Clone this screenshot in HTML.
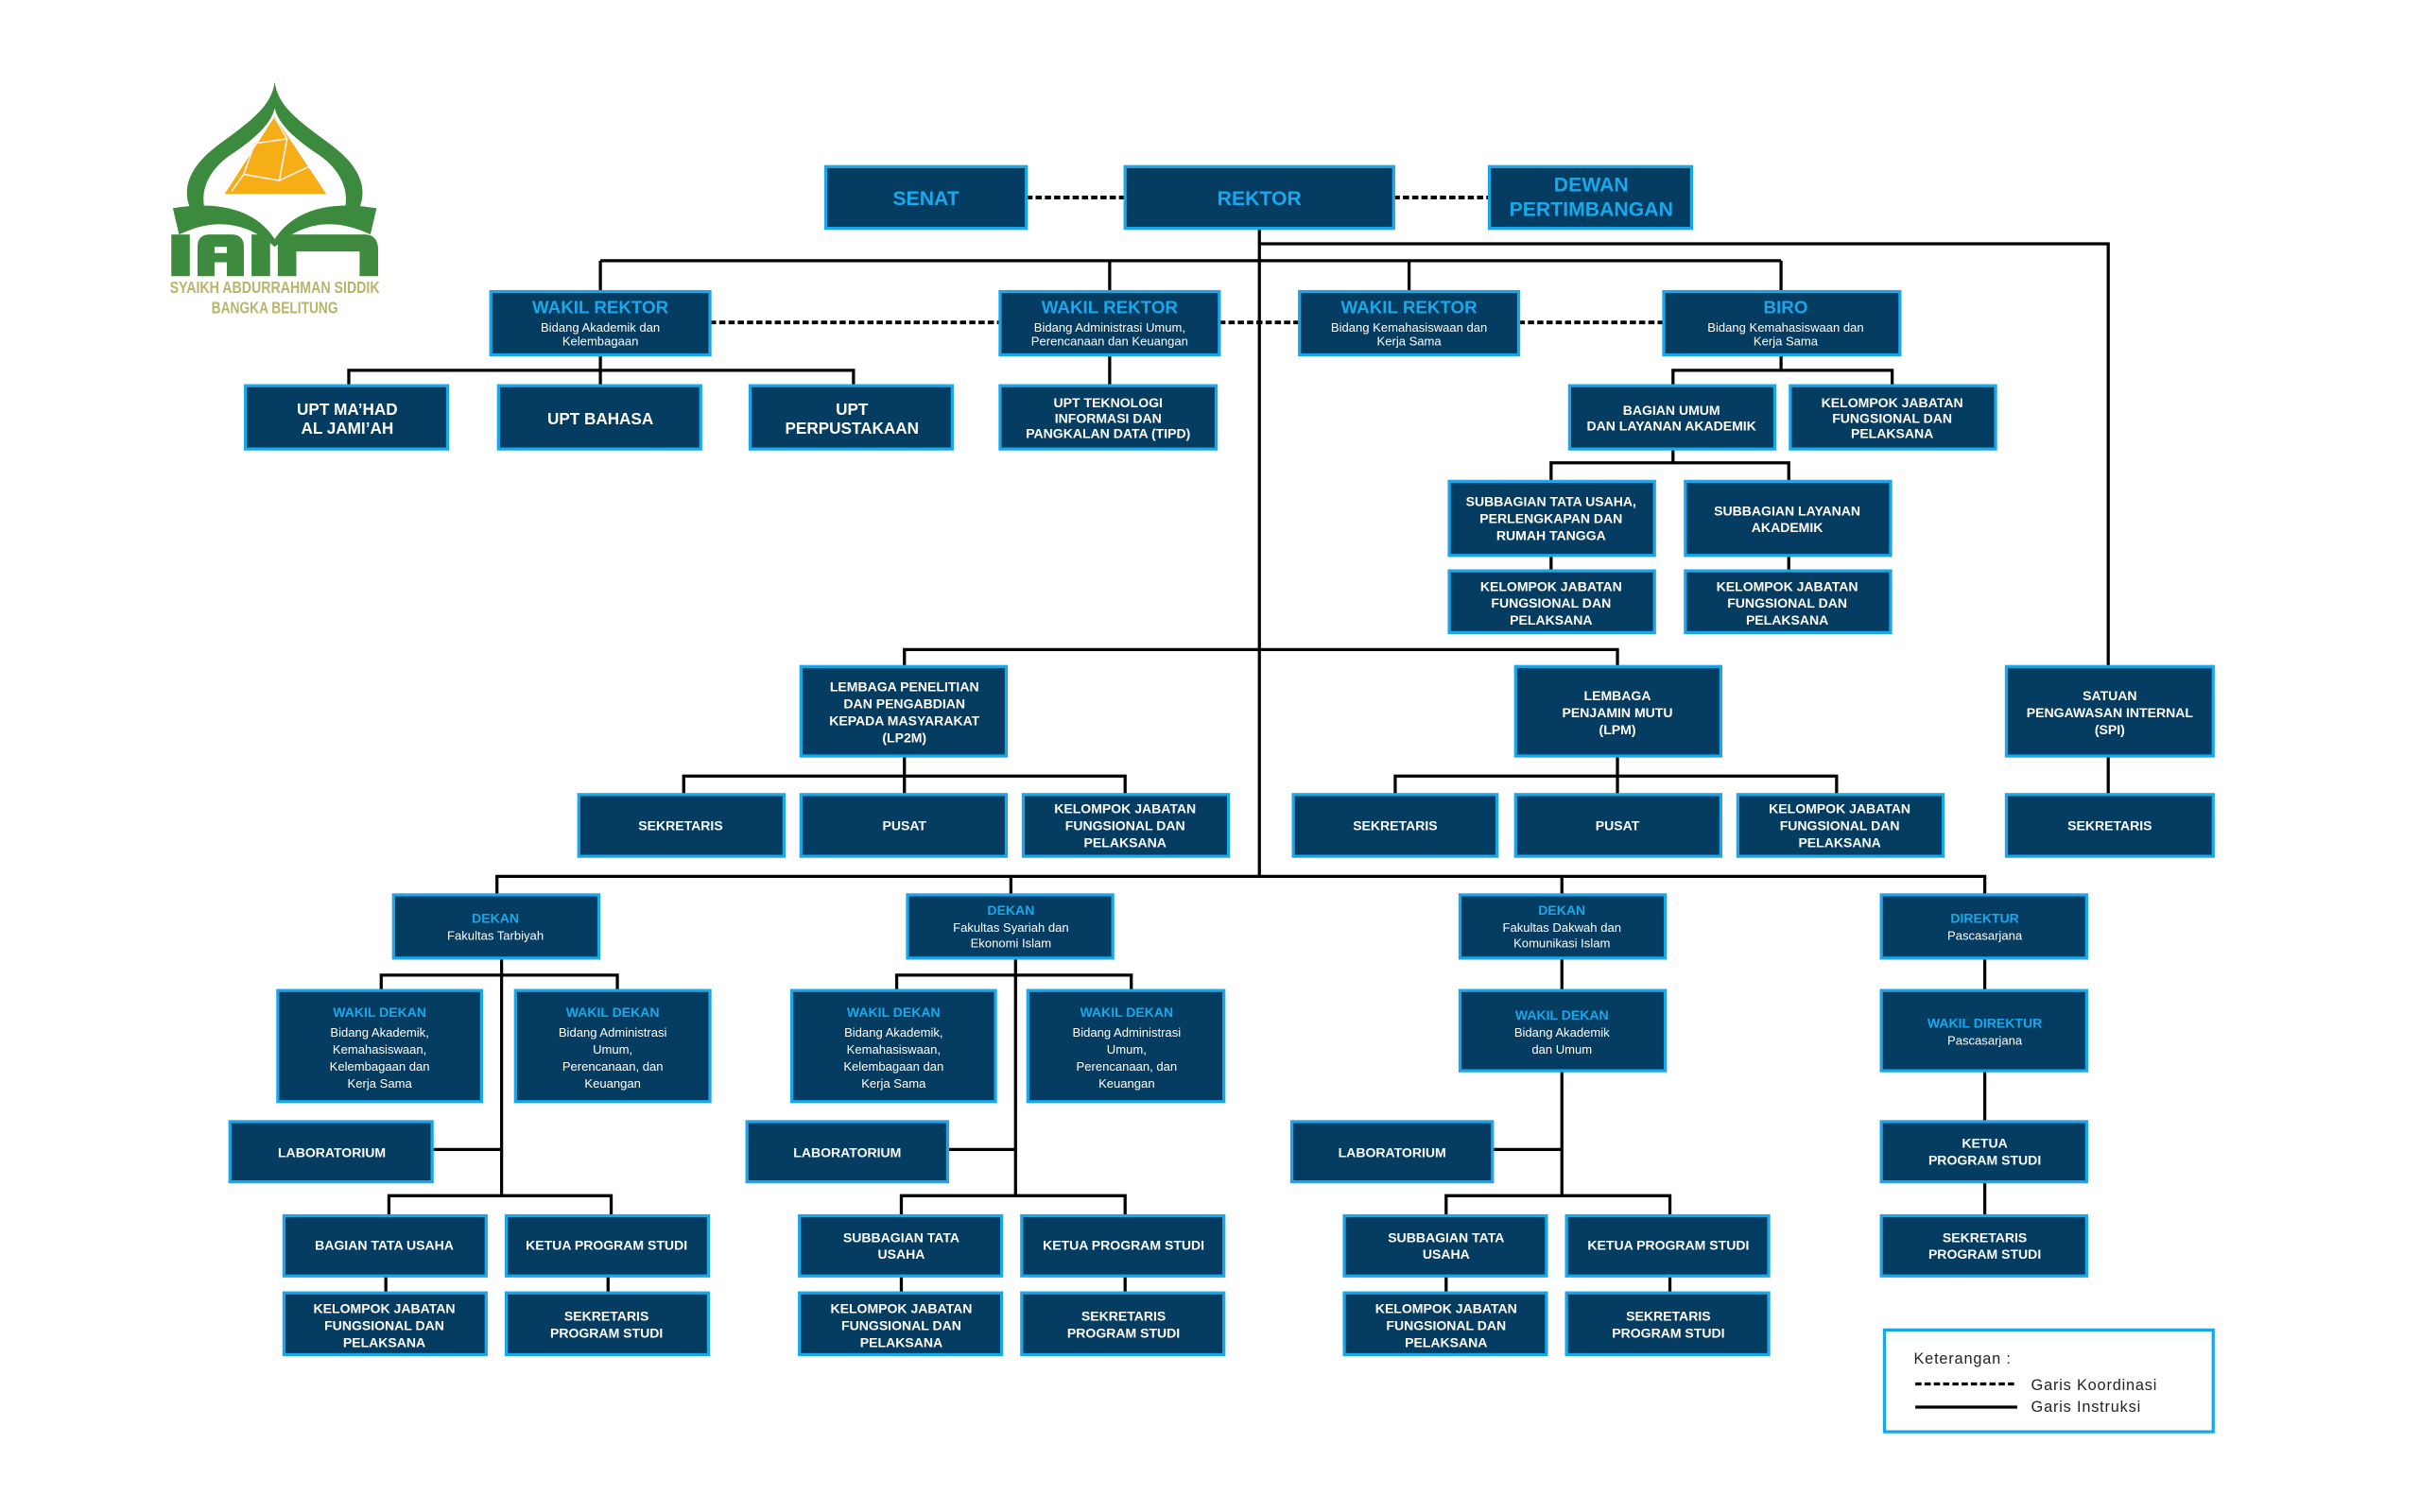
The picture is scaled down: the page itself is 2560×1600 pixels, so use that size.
<!DOCTYPE html>
<html><head><meta charset="utf-8"><style>
html,body{margin:0;padding:0;background:#fff;}
svg{display:block}
.bx{fill:#053c61;stroke:#1aa6e8;stroke-width:2}
text{font-family:"Liberation Sans Narrow","Liberation Sans",sans-serif;text-anchor:middle}
.T{fill:#1aa8ea;font-weight:bold}
.W{fill:#fff;font-weight:bold;font-size:8.6px}
.S{fill:#fff;font-size:8px}
.L{stroke:#000;stroke-width:2;fill:none}
.D{stroke:#000;stroke-width:2.4;fill:none;stroke-dasharray:4 2}
</style></head><body>
<svg width="2560" height="1600" viewBox="0 0 1568 980" preserveAspectRatio="none" xmlns="http://www.w3.org/2000/svg">
<!-- Logo -->
<g>
<path d="M178,53 C176,70 160,80 140,95 C118,112 118,128 126,140 L134,140 C128,125 135,110 150,100 C165,90 176,80 178,70 C180,80 191,90 206,100 C221,110 228,125 222,140 L230,140 C238,128 238,112 216,95 C196,80 180,70 178,53Z" fill="#3b8a3e"/>
<polygon points="178,75 145,126 212,126" fill="#f5ae16" stroke="#fff" stroke-width="0.6"/>
<path d="M165,93 L186,90 L181,117 L158,113 Z M181,117 L200,108 M158,113 L150,124 M186,90 L178,76" stroke="#eee" stroke-width="1" fill="none"/>
<path d="M112,135 C140,130 165,135 178,155 C191,135 216,130 244,135 L240,152 C215,140 195,145 178,160 C161,145 141,140 116,152 Z" fill="#3b8a3e"/>
<g fill="#3e8a3f">
<rect x="111" y="152" width="12" height="27"/>
<path d="M128,179 L128,160 Q128,152 136,152 L150,152 Q158,152 158,160 L158,179 L147,179 L147,170 L139,170 L139,179Z M139,160 L147,160 L147,164 L139,164Z" fill-rule="evenodd"/>
<rect x="163" y="152" width="12" height="27"/>
<path d="M180,179 L180,152 L236,152 Q245,152 245,162 L245,179 L233,179 L233,163 L192,163 L192,179Z"/>
</g>
<text x="178" y="190" style="font-size:11px;font-weight:bold;fill:#b8b56a" textLength="136" lengthAdjust="spacingAndGlyphs">SYAIKH ABDURRAHMAN SIDDIK</text>
<text x="178" y="203" style="font-size:11px;font-weight:bold;fill:#b8b56a" textLength="82" lengthAdjust="spacingAndGlyphs">BANGKA BELITUNG</text>
</g>

<!-- Lines -->
<path class="D" d="M665,128 H729 M903,128 H965 M460,209 H648 M790,209 H842 M984,209 H1078"/>
<path class="L" d="M816,148 V568 M816,158 H1366 V432 M389,169 H1154 M389,169 V189 M719,169 V189 M913,169 V189 M1154,169 V189
M389,230 V250 M226,250 V240 H553 V250 M719,230 V250
M1154,230 V240 M1084,250 V240 H1226 V250 M1084,291 V300 M1005,312 V300 H1159 V312 M1005,360 V370 M1159,360 V370
M586,432 V421 H1048 V432 M586,490 V515 M443,515 V503 H729 V515 M1048,490 V515 M904,515 V503 H1190 V515 M1366,490 V515
M322,580 V568 H1286 V580 M655,568 V580 M1012,568 V580
M325,621 V775 M247,642 V632 H400 V642 M280,745 H325 M252,788 V775 H396 V788 M250,827 V838 M394,827 V838
M658,621 V775 M581,642 V632 H733 V642 M614,745 H658 M584,788 V775 H729 V788 M584,827 V838 M729,827 V838
M1012,621 V642 M1012,694 V775 M967,745 H1012 M937,788 V775 H1082 V788 M937,827 V838 M1082,827 V838
M1286,621 V642 M1286,694 V727 M1286,766 V788"/>

<!-- Top -->
<rect class="bx" x="535" y="108" width="130" height="40"/><text class="T" x="600" y="133" style="font-size:13px">SENAT</text>
<rect class="bx" x="729" y="108" width="174" height="40"/><text class="T" x="816" y="133" style="font-size:13px">REKTOR</text>
<rect class="bx" x="965" y="108" width="131" height="40"/><text class="T" x="1031" y="124" style="font-size:13px">DEWAN</text><text class="T" x="1031" y="140" style="font-size:13px">PERTIMBANGAN</text>

<rect class="bx" x="318" y="189" width="142" height="41"/><text class="T" x="389" y="203" style="font-size:11.5px">WAKIL REKTOR</text><text class="S" x="389" y="215">Bidang Akademik dan</text><text class="S" x="389" y="224">Kelembagaan</text>
<rect class="bx" x="648" y="189" width="142" height="41"/><text class="T" x="719" y="203" style="font-size:11.5px">WAKIL REKTOR</text><text class="S" x="719" y="215">Bidang Administrasi Umum,</text><text class="S" x="719" y="224">Perencanaan dan Keuangan</text>
<rect class="bx" x="842" y="189" width="142" height="41"/><text class="T" x="913" y="203" style="font-size:11.5px">WAKIL REKTOR</text><text class="S" x="913" y="215">Bidang Kemahasiswaan dan</text><text class="S" x="913" y="224">Kerja Sama</text>
<rect class="bx" x="1078" y="189" width="153" height="41"/><text class="T" x="1157" y="203" style="font-size:11.5px">BIRO</text><text class="S" x="1157" y="215">Bidang Kemahasiswaan dan</text><text class="S" x="1157" y="224">Kerja Sama</text>

<rect class="bx" x="159" y="250" width="131" height="41"/><text class="W" x="225" y="269" style="font-size:10.5px">UPT MA’HAD</text><text class="W" x="225" y="281" style="font-size:10.5px">AL JAMI’AH</text>
<rect class="bx" x="323" y="250" width="131" height="41"/><text class="W" x="389" y="275" style="font-size:10.5px">UPT BAHASA</text>
<rect class="bx" x="486" y="250" width="131" height="41"/><text class="W" x="552" y="269" style="font-size:10.5px">UPT</text><text class="W" x="552" y="281" style="font-size:10.5px">PERPUSTAKAAN</text>
<rect class="bx" x="648" y="250" width="140" height="41"/><text class="W" x="718" y="264">UPT TEKNOLOGI</text><text class="W" x="718" y="274">INFORMASI DAN</text><text class="W" x="718" y="284">PANGKALAN DATA (TIPD)</text>

<rect class="bx" x="1017" y="250" width="133" height="41"/><text class="W" x="1083" y="269">BAGIAN UMUM</text><text class="W" x="1083" y="279">DAN LAYANAN AKADEMIK</text>
<rect class="bx" x="1160" y="250" width="133" height="41"/><text class="W" x="1226" y="264">KELOMPOK JABATAN</text><text class="W" x="1226" y="274">FUNGSIONAL DAN</text><text class="W" x="1226" y="284">PELAKSANA</text>
<rect class="bx" x="939" y="312" width="133" height="48"/><text class="W" x="1005" y="328">SUBBAGIAN TATA USAHA,</text><text class="W" x="1005" y="339">PERLENGKAPAN DAN</text><text class="W" x="1005" y="350">RUMAH TANGGA</text>
<rect class="bx" x="1092" y="312" width="133" height="48"/><text class="W" x="1158" y="334">SUBBAGIAN LAYANAN</text><text class="W" x="1158" y="345">AKADEMIK</text>
<rect class="bx" x="939" y="370" width="133" height="40"/><text class="W" x="1005" y="383">KELOMPOK JABATAN</text><text class="W" x="1005" y="394">FUNGSIONAL DAN</text><text class="W" x="1005" y="405">PELAKSANA</text>
<rect class="bx" x="1092" y="370" width="133" height="40"/><text class="W" x="1158" y="383">KELOMPOK JABATAN</text><text class="W" x="1158" y="394">FUNGSIONAL DAN</text><text class="W" x="1158" y="405">PELAKSANA</text>

<!-- Lembaga -->
<rect class="bx" x="519" y="432" width="133" height="58"/><text class="W" x="586" y="448">LEMBAGA PENELITIAN</text><text class="W" x="586" y="459">DAN PENGABDIAN</text><text class="W" x="586" y="470">KEPADA MASYARAKAT</text><text class="W" x="586" y="481">(LP2M)</text>
<rect class="bx" x="982" y="432" width="133" height="58"/><text class="W" x="1048" y="454">LEMBAGA</text><text class="W" x="1048" y="465">PENJAMIN MUTU</text><text class="W" x="1048" y="476">(LPM)</text>
<rect class="bx" x="1300" y="432" width="134" height="58"/><text class="W" x="1367" y="454">SATUAN</text><text class="W" x="1367" y="465">PENGAWASAN INTERNAL</text><text class="W" x="1367" y="476">(SPI)</text>

<rect class="bx" x="375" y="515" width="133" height="40"/><text class="W" x="441" y="538">SEKRETARIS</text>
<rect class="bx" x="519" y="515" width="133" height="40"/><text class="W" x="586" y="538">PUSAT</text>
<rect class="bx" x="663" y="515" width="133" height="40"/><text class="W" x="729" y="527">KELOMPOK JABATAN</text><text class="W" x="729" y="538">FUNGSIONAL DAN</text><text class="W" x="729" y="549">PELAKSANA</text>
<rect class="bx" x="838" y="515" width="132" height="40"/><text class="W" x="904" y="538">SEKRETARIS</text>
<rect class="bx" x="982" y="515" width="133" height="40"/><text class="W" x="1048" y="538">PUSAT</text>
<rect class="bx" x="1126" y="515" width="133" height="40"/><text class="W" x="1192" y="527">KELOMPOK JABATAN</text><text class="W" x="1192" y="538">FUNGSIONAL DAN</text><text class="W" x="1192" y="549">PELAKSANA</text>
<rect class="bx" x="1300" y="515" width="134" height="40"/><text class="W" x="1367" y="538">SEKRETARIS</text>

<!-- Faculties -->
<rect class="bx" x="255" y="580" width="133" height="41"/><text class="T" x="321" y="598" style="font-size:8.6px">DEKAN</text><text class="S" x="321" y="609">Fakultas Tarbiyah</text>
<rect class="bx" x="588" y="580" width="133" height="41"/><text class="T" x="655" y="593" style="font-size:8.6px">DEKAN</text><text class="S" x="655" y="604">Fakultas Syariah dan</text><text class="S" x="655" y="614">Ekonomi Islam</text>
<rect class="bx" x="946" y="580" width="133" height="41"/><text class="T" x="1012" y="593" style="font-size:8.6px">DEKAN</text><text class="S" x="1012" y="604">Fakultas Dakwah dan</text><text class="S" x="1012" y="614">Komunikasi Islam</text>
<rect class="bx" x="1219" y="580" width="133" height="41"/><text class="T" x="1286" y="598" style="font-size:8.6px">DIREKTUR</text><text class="S" x="1286" y="609">Pascasarjana</text>

<rect class="bx" x="180" y="642" width="132" height="72"/><text class="T" x="246" y="659" style="font-size:8.6px">WAKIL DEKAN</text><text class="S" x="246" y="672">Bidang Akademik,</text><text class="S" x="246" y="683">Kemahasiswaan,</text><text class="S" x="246" y="694">Kelembagaan dan</text><text class="S" x="246" y="705">Kerja Sama</text>
<rect class="bx" x="334" y="642" width="126" height="72"/><text class="T" x="397" y="659" style="font-size:8.6px">WAKIL DEKAN</text><text class="S" x="397" y="672">Bidang Administrasi</text><text class="S" x="397" y="683">Umum,</text><text class="S" x="397" y="694">Perencanaan, dan</text><text class="S" x="397" y="705">Keuangan</text>
<rect class="bx" x="513" y="642" width="132" height="72"/><text class="T" x="579" y="659" style="font-size:8.6px">WAKIL DEKAN</text><text class="S" x="579" y="672">Bidang Akademik,</text><text class="S" x="579" y="683">Kemahasiswaan,</text><text class="S" x="579" y="694">Kelembagaan dan</text><text class="S" x="579" y="705">Kerja Sama</text>
<rect class="bx" x="666" y="642" width="127" height="72"/><text class="T" x="730" y="659" style="font-size:8.6px">WAKIL DEKAN</text><text class="S" x="730" y="672">Bidang Administrasi</text><text class="S" x="730" y="683">Umum,</text><text class="S" x="730" y="694">Perencanaan, dan</text><text class="S" x="730" y="705">Keuangan</text>
<rect class="bx" x="946" y="642" width="133" height="52"/><text class="T" x="1012" y="661" style="font-size:8.6px">WAKIL DEKAN</text><text class="S" x="1012" y="672">Bidang Akademik</text><text class="S" x="1012" y="683">dan Umum</text>
<rect class="bx" x="1219" y="642" width="133" height="52"/><text class="T" x="1286" y="666" style="font-size:8.6px">WAKIL DIREKTUR</text><text class="S" x="1286" y="677">Pascasarjana</text>

<rect class="bx" x="149" y="727" width="131" height="39"/><text class="W" x="215" y="750">LABORATORIUM</text>
<rect class="bx" x="484" y="727" width="130" height="39"/><text class="W" x="549" y="750">LABORATORIUM</text>
<rect class="bx" x="837" y="727" width="130" height="39"/><text class="W" x="902" y="750">LABORATORIUM</text>
<rect class="bx" x="1219" y="727" width="133" height="39"/><text class="W" x="1286" y="744">KETUA</text><text class="W" x="1286" y="755">PROGRAM STUDI</text>

<rect class="bx" x="184" y="788" width="131" height="39"/><text class="W" x="249" y="810">BAGIAN TATA USAHA</text>
<rect class="bx" x="328" y="788" width="131" height="39"/><text class="W" x="393" y="810">KETUA PROGRAM STUDI</text>
<rect class="bx" x="518" y="788" width="131" height="39"/><text class="W" x="584" y="805">SUBBAGIAN TATA</text><text class="W" x="584" y="816">USAHA</text>
<rect class="bx" x="662" y="788" width="131" height="39"/><text class="W" x="728" y="810">KETUA PROGRAM STUDI</text>
<rect class="bx" x="871" y="788" width="131" height="39"/><text class="W" x="937" y="805">SUBBAGIAN TATA</text><text class="W" x="937" y="816">USAHA</text>
<rect class="bx" x="1015" y="788" width="131" height="39"/><text class="W" x="1081" y="810">KETUA PROGRAM STUDI</text>
<rect class="bx" x="1219" y="788" width="133" height="39"/><text class="W" x="1286" y="805">SEKRETARIS</text><text class="W" x="1286" y="816">PROGRAM STUDI</text>

<rect class="bx" x="184" y="838" width="131" height="40"/><text class="W" x="249" y="851">KELOMPOK JABATAN</text><text class="W" x="249" y="862">FUNGSIONAL DAN</text><text class="W" x="249" y="873">PELAKSANA</text>
<rect class="bx" x="328" y="838" width="131" height="40"/><text class="W" x="393" y="856">SEKRETARIS</text><text class="W" x="393" y="867">PROGRAM STUDI</text>
<rect class="bx" x="518" y="838" width="131" height="40"/><text class="W" x="584" y="851">KELOMPOK JABATAN</text><text class="W" x="584" y="862">FUNGSIONAL DAN</text><text class="W" x="584" y="873">PELAKSANA</text>
<rect class="bx" x="662" y="838" width="131" height="40"/><text class="W" x="728" y="856">SEKRETARIS</text><text class="W" x="728" y="867">PROGRAM STUDI</text>
<rect class="bx" x="871" y="838" width="131" height="40"/><text class="W" x="937" y="851">KELOMPOK JABATAN</text><text class="W" x="937" y="862">FUNGSIONAL DAN</text><text class="W" x="937" y="873">PELAKSANA</text>
<rect class="bx" x="1015" y="838" width="131" height="40"/><text class="W" x="1081" y="856">SEKRETARIS</text><text class="W" x="1081" y="867">PROGRAM STUDI</text>

<!-- Legend -->
<rect x="1221" y="862" width="213" height="66" fill="#fff" stroke="#1aa6e8" stroke-width="2"/>
<text x="1240" y="884" style="font-size:10px;fill:#222;text-anchor:start;letter-spacing:0.5px">Keterangan :</text>
<path d="M1241,897 H1305" stroke="#000" stroke-width="2" stroke-dasharray="4 2"/>
<path d="M1241,912 H1307" stroke="#000" stroke-width="2"/>
<text x="1316" y="901" style="font-size:10px;fill:#222;text-anchor:start;letter-spacing:0.5px">Garis Koordinasi</text>
<text x="1316" y="915" style="font-size:10px;fill:#222;text-anchor:start;letter-spacing:0.5px">Garis Instruksi</text>
</svg>
</body></html>
